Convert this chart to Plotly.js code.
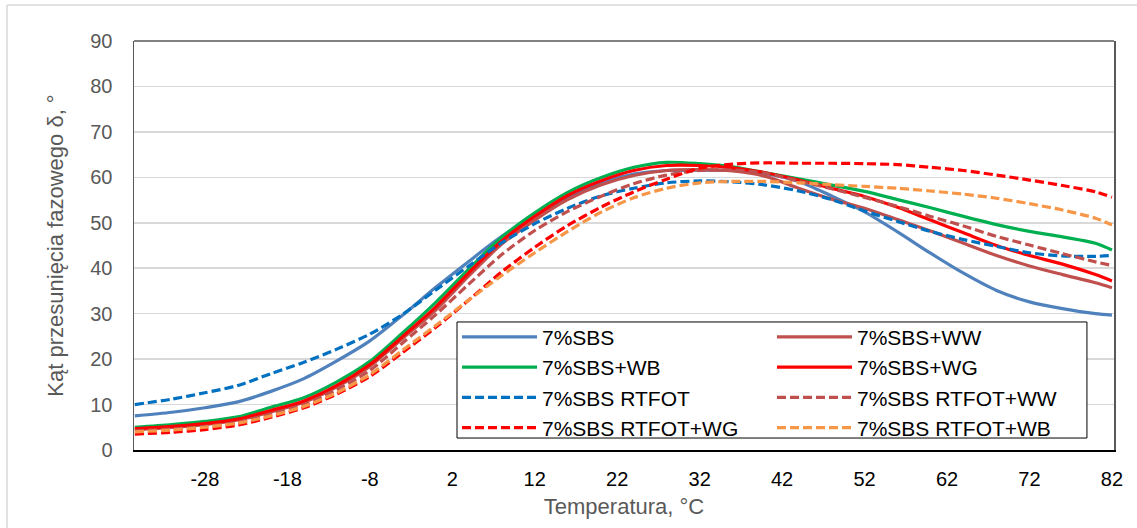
<!DOCTYPE html>
<html>
<head>
<meta charset="utf-8">
<script src="https://cdn.plot.ly/plotly-3.0.1.min.js"></script>
<style>html,body{margin:0;padding:0;background:#fff;}#chart{width:1137px;height:528px;}</style>
</head>
<body>
<div id="chart"></div>
<script>
const temperature = [-36.5,-32,-28,-24,-20,-16,-12,-8,-4,0,4,8,12,16,20,24,28,32,36,40,44,48,52,56,60,64,68,72,76,80,82];

const sbs        = [7.5,8.3,9.3,10.6,12.9,15.7,19.6,24.0,29.7,35.8,41.5,47.0,51.6,55.5,58.7,60.7,61.5,61.6,61.5,60.8,59.1,55.9,52.4,48.0,43.3,38.9,35.1,32.6,31.1,30.0,29.7];
const sbsWW      = [4.5,5.0,5.6,6.6,8.4,10.5,13.9,18.4,24.6,30.8,38.3,45.3,50.6,55.1,58.3,60.4,61.5,61.7,61.4,60.2,57.6,55.2,53.2,50.7,48.2,45.5,42.8,40.5,38.6,36.8,35.7];
const sbsWB      = [5.0,5.6,6.3,7.3,9.4,11.5,15.0,19.5,25.8,32.5,39.8,46.8,52.2,56.7,59.9,62.2,63.3,63.0,62.3,61.0,59.7,58.3,56.9,55.1,53.3,51.4,49.6,48.1,46.9,45.5,44.0];
const sbsWG      = [4.7,5.2,5.8,6.8,8.7,10.8,14.2,18.8,25.0,31.5,39.0,46.0,51.4,56.0,59.2,61.5,62.6,62.6,62.1,61.0,59.4,57.6,55.8,53.4,50.6,47.8,45.0,42.8,40.9,38.6,37.2];
const rtfot      = [10.0,11.2,12.6,14.2,16.8,19.3,22.2,25.5,29.9,35.2,40.5,45.6,49.8,53.2,55.9,57.6,58.8,59.2,59.0,58.3,57.0,55.1,52.6,50.3,48.1,46.3,44.8,43.4,42.7,42.6,42.8];
const rtfotWW    = [4.2,4.6,5.2,6.1,7.9,9.9,13.3,17.5,23.6,29.8,36.5,43.0,48.3,52.5,55.8,58.6,60.5,61.5,61.6,60.9,59.2,57.5,55.6,53.6,51.4,49.3,47.0,45.1,43.2,41.4,40.6];
const rtfotWG    = [3.5,3.9,4.5,5.5,7.2,9.3,12.3,16.2,21.5,27.0,33.0,39.2,44.6,49.4,53.4,56.8,59.6,62.0,62.9,63.2,63.1,63.1,63.0,62.8,62.2,61.5,60.5,59.4,58.2,56.8,55.6];
const rtfotWB    = [4.0,4.4,5.0,5.9,7.5,9.6,12.6,16.6,22.0,27.4,33.0,38.4,43.4,48.1,52.3,55.5,57.6,58.8,59.1,59.1,58.8,58.4,58.0,57.6,57.0,56.3,55.4,54.2,52.8,51.0,49.5];

const seriesNames = ["7%SBS","7%SBS+WW","7%SBS+WB","7%SBS+WG","7%SBS RTFOT","7%SBS RTFOT+WW","7%SBS RTFOT+WG","7%SBS RTFOT+WB"];
const seriesData  = [sbs, sbsWW, sbsWB, sbsWG, rtfot, rtfotWW, rtfotWG, rtfotWB];
const colors = ["#4f81bd","#c0504d","#00b050","#ff0000","#0070c0","#c0504d","#ff0000","#f79646"];
const dashes = ["solid","solid","solid","solid","9px,4px","9px,4px","9px,4px","9px,4px"];
const legendColumn = ["legend","legend2","legend","legend2","legend","legend2","legend","legend2"];

const xTicks = [-28,-18,-8,2,12,22,32,42,52,62,72,82];

const traces = seriesNames.map((n,i)=>({
  type:'scatter', mode:'lines', name:n, legend:legendColumn[i],
  x: temperature, y: seriesData[i],
  line:{color:colors[i], width:3.2, dash:dashes[i], shape:'spline', smoothing:0.8}
}));

const font = "Liberation Sans, Arial, sans-serif";
const legendCommon = {
  yanchor:'top', xanchor:'left', orientation:'v',
  bgcolor:'rgba(0,0,0,0)', borderwidth:0,
  font:{family:font, size:21, color:'#000'},
  tracegroupgap:0, itemwidth:75
};
const layout = {
  width:1137, height:528,
  margin:{l:134, r:23, t:41, b:78, autoexpand:false},
  paper_bgcolor:'#fff', plot_bgcolor:'#fff',
  font:{family:font},
  showlegend:true,
  legend:Object.assign({}, legendCommon, {x:0.3296, y:0.326}),
  legend2:Object.assign({}, legendCommon, {x:0.651, y:0.326}),
  xaxis:{
    range:[-36.6,82.25], tickmode:'array', tickvals:xTicks, ticktext:xTicks.map(String),
    showgrid:false, zeroline:false,
    showline:true, linecolor:'#000', linewidth:2,
    ticks:'', ticklabelstandoff:10,
    tickfont:{family:font, size:20, color:'#000'},
    title:{text:'Temperatura, °C', font:{family:font, size:22, color:'#595959'}, standoff:10}
  },
  yaxis:{
    range:[0,90], dtick:10, tick0:0,
    showgrid:true, gridcolor:'#d9d9d9', gridwidth:1.5,
    zeroline:false, showline:true, linecolor:'#595959', linewidth:1.5, mirror:true,
    ticks:'', ticklabelstandoff:16,
    tickfont:{family:font, size:20, color:'#595959'},
    title:{text:'Kąt przesunięcia fazowego δ, °', font:{family:font, size:22, color:'#595959'}, standoff:20}
  },
  shapes:[
    {type:'rect', xref:'paper', yref:'paper', x0:0.3296, x1:0.9724, y0:0.0293, y1:0.313, fillcolor:'#fff', line:{color:'#000', width:1}, layer:'above'},
    {type:'line', xref:'paper', yref:'paper', x0:0, x1:1, y0:1, y1:1, line:{color:'#595959', width:1.5}},
    {type:'line', xref:'paper', yref:'paper', x0:-0.1296, x1:1.03, y0:1.088, y1:1.088, line:{color:'#d9d9d9', width:1.5}},
    {type:'line', xref:'paper', yref:'paper', x0:-0.1296, x1:-0.1296, y0:1.088, y1:-0.2, line:{color:'#d9d9d9', width:1.5}}
  ]
};

Plotly.newPlot('chart', traces, layout, {displayModeBar:false, staticPlot:true});
</script>
</body>
</html>
